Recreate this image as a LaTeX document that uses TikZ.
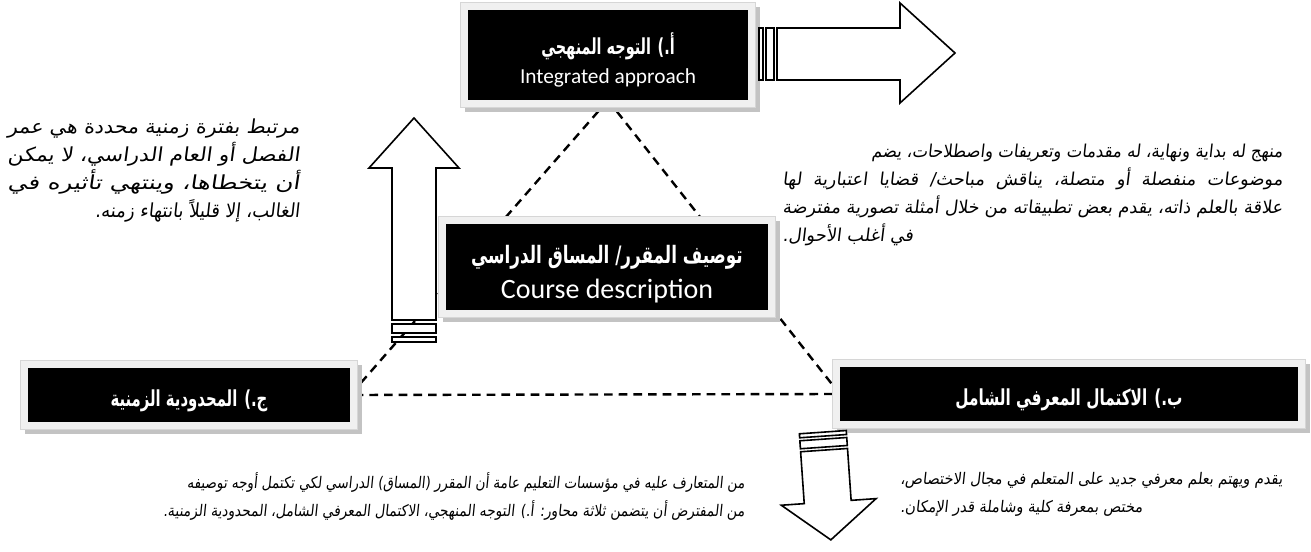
\documentclass[tikz,border=0pt]{standalone}
\usepackage{fontspec}
\usepackage{graphicx}
\usetikzlibrary{fit,backgrounds}
\TeXXeTstate=1
\newfontfamily\arabicfont[Script=Arabic]{DejaVu Sans}
\newfontfamily\arabicnote[Script=Arabic,FakeSlant=0.12]{DejaVu Sans}
\newfontfamily\latinfont{Carlito}
\definecolor{framegrey}{HTML}{F0F0F0}
\definecolor{edgegrey}{HTML}{D6D6D6}
\definecolor{shadowgrey}{HTML}{C3C3C3}

% light frame with a drop shadow around a black label box
\newcommand\panelframe[1]{%
  \fill[shadowgrey] ([shift={(-3,-3)}]#1.north west) rectangle ([shift={(12,12)}]#1.south east);
  \filldraw[fill=framegrey,draw=edgegrey,line width=0.5pt]
    ([shift={(-7,-7)}]#1.north west) rectangle ([shift={(7,7)}]#1.south east);}
% bold Arabic label font
\newcommand\arlabel[1]{\arabicfont\bfseries\fontsize{#1}{20}\selectfont}

\begin{document}
\begin{tikzpicture}[x=0.75pt,y=-0.75pt,
  labelbox/.style={fill=black,inner sep=0pt},
  labeltext/.style={text=white,inner sep=0pt,align=center},
  note/.style={inner sep=0pt,font=\arabicnote\fontsize{#1}{21}\selectfont},
  blockarrow/.style={draw=black,fill=white,line width=1.2pt,line join=miter},
  triangle edge/.style={draw=black,line width=1.8pt,dash pattern=on 6.5pt off 4.5pt}]
\useasboundingbox (0,0) rectangle (1311,552);

% the four label boxes
\node[labelbox,fit={(468,10) (748,100)}] (top) {};
\node[labelbox,fit={(446,224) (768,310)}] (course) {};
\node[labelbox,fit={(28,368) (350,422)}] (timebox) {};
\node[labelbox,fit={(840,367) (1298,421)}] (scopebox) {};

\node[labeltext] (toptext) at ([shift={(0,5)}]top.center)
  {{\arlabel{16.5}\scalebox{0.655}[1]{\beginR أ.) التوجه المنهجي\endR}}\\[6pt]
   {\latinfont\fontsize{16}{18}\selectfont Integrated approach}};
\node[labeltext] (coursetext) at ([shift={(0,7)}]course.center)
  {{\arlabel{18}\scalebox{0.70}[1]{\beginR توصيف المقرر/ المساق الدراسي\endR}}\\[6pt]
   {\latinfont\fontsize{21}{22}\selectfont Course description}};
\node[labeltext] (timetext) at ([shift={(0,6)}]timebox.center)
  {\arlabel{16.5}\scalebox{0.676}[1]{\beginR ج.) المحدودية الزمنية\endR}};
\node[labeltext] (scopetext) at ([shift={(0,6)}]scopebox.center)
  {\arlabel{16.5}\scalebox{0.695}[1]{\beginR ب.) الاكتمال المعرفي الشامل\endR}};

% explanatory notes
\node[note=13.3,align=right,anchor=north east] (topnote) at (1283,144)
  {\scalebox{0.93}[1]{\beginR منهج له بداية ونهاية، له مقدمات وتعريفات واصطلاحات، يضم\endR}\\
   \makebox[375pt][s]{\beginR موضوعات منفصلة أو متصلة، يناقش مباحث/ قضايا اعتبارية لها\endR}\\
   \resizebox{375pt}{\height}{\beginR علاقة بالعلم ذاته، يقدم بعض تطبيقاته من خلال أمثلة تصورية مفترضة\endR}\\
   \makebox[375pt][l]{\beginR في أغلب الأحوال.\endR}};
\node[note=14.5,align=right,anchor=north east] (timenote) at (300,119)
  {\resizebox{219pt}{\height}{\beginR مرتبط بفترة زمنية محددة هي عمر\endR}\\
   \resizebox{219pt}{\height}{\beginR الفصل أو العام الدراسي، لا يمكن\endR}\\
   \resizebox{219pt}{\height}{\beginR أن يتخطاها، وينتهي تأثيره في\endR}\\
   \scalebox{0.93}[1]{\beginR الغالب، إلا قليلاً بانتهاء زمنه.\endR}};
\node[note=12,align=right,anchor=north east] (coursenote) at (745,472)
  {\scalebox{0.84}[1]{\beginR من المتعارف عليه في مؤسسات التعليم عامة أن المقرر (المساق) الدراسي لكي تكتمل أوجه توصيفه\endR}\\
   \scalebox{0.86}[1]{\beginR من المفترض أن يتضمن ثلاثة محاور: أ.) التوجه المنهجي، الاكتمال المعرفي الشامل، المحدودية الزمنية.\endR}};
\node[note=12,align=left,anchor=north west] (scopenote) at (900,472)
  {\scalebox{0.91}[1]{\beginR يقدم ويهتم بعلم معرفي جديد على المتعلم في مجال الاختصاص،\endR}\\
   \scalebox{0.91}[1]{\beginR مختص بمعرفة كلية وشاملة قدر الإمكان.\endR}};

% striped block arrows
\draw[blockarrow] (759,28) rectangle (763,80);
\draw[blockarrow] (766,28) rectangle (774,80);
\draw[blockarrow] (777,28) -- (900,28) -- (900,3) -- (955,53) -- (900,103) -- (900,80) -- (777,80) -- cycle;

\draw[blockarrow] (392,320) -- (392,168) -- (369,168) -- (414,118) -- (459,168) -- (436,168) -- (436,320) -- cycle;
\draw[blockarrow] (392,324) rectangle (436,333);
\draw[blockarrow] (392,337) rectangle (436,342);

\begin{scope}[rotate around={4:(827,485)}]
  \draw[blockarrow] (803,432) rectangle (850,436);
  \draw[blockarrow] (803,439) rectangle (850,447);
  \draw[blockarrow] (803,450) -- (850,450) -- (850,502) -- (875,502) -- (827,540) -- (780,502) -- (803,502) -- cycle;
\end{scope}

\begin{scope}[on background layer]
  \fill[white] (0,0) rectangle (1311,552);
  \draw[triangle edge] (top.south) -- (timebox.east) -- (scopebox.west) -- cycle;
  \panelframe{top}
  \panelframe{course}
  \panelframe{timebox}
  \panelframe{scopebox}
\end{scope}
\end{tikzpicture}
\end{document}
